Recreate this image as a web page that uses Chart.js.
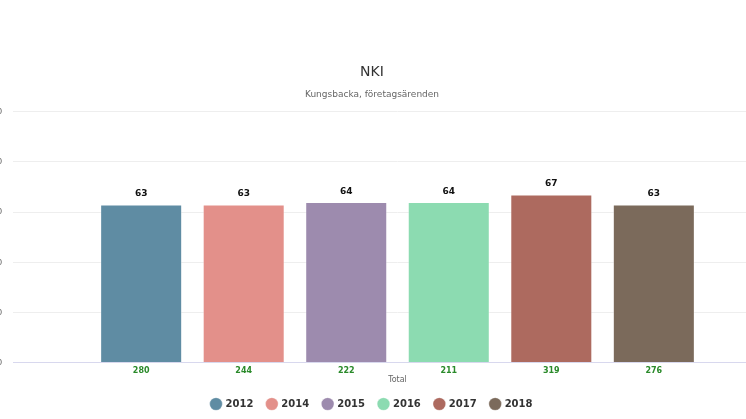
<!DOCTYPE html>
<html><head><meta charset="utf-8">
<script src="https://cdn.jsdelivr.net/npm/chart.js@4"></script>
<style>html,body{margin:0;padding:0;overflow:hidden;background:#fff}
#w{position:absolute;left:-38px;top:0;width:820px;height:419px}</style>
</head><body><div id="w"><canvas id="c"></canvas></div>
<script>
const years = ['2012','2014','2015','2016','2017','2018'];
const nki = [63, 63, 64, 64, 67, 63];
const counts = [280, 244, 222, 211, 319, 276];
const colors = ['#5f8ca3','#e3908a','#9d8bae','#8cdbb1','#ad6a5f','#7b6a5b'];
const categories = ['Total'];

const labelPlugin = {
  id: 'lbl',
  afterDatasetsDraw(chart) {
    const ctx = chart.ctx;
    ctx.save();
    ctx.textAlign = 'center';
    chart.data.datasets.forEach((ds, i) => {
      const bar = chart.getDatasetMeta(i).data[0];
      ctx.font = 'bold 9px "DejaVu Sans"';
      ctx.fillStyle = '#111';
      ctx.textBaseline = 'bottom';
      ctx.fillText(String(ds.data[0]), bar.x, bar.y - 6);
      ctx.font = 'bold 8px "DejaVu Sans"';
      ctx.fillStyle = '#2a8a2a';
      ctx.textBaseline = 'middle';
      ctx.fillText(String(counts[i]), bar.x, chart.chartArea.bottom + 8);
    });
    ctx.restore();
  }
};

new Chart(document.getElementById('c'), {
  type: 'bar',
  data: {
    labels: categories,
    datasets: years.map((y, i) => ({
      label: y, data: [nki[i]],
      backgroundColor: colors[i], borderColor: 'rgba(255,255,255,0.35)', borderWidth: 1
    }))
  },
  options: {
    responsive: true, maintainAspectRatio: false, animation: false,
    layout: { padding: { top: 64, left: 0, right: 0, bottom: 0 } },
    categoryPercentage: 0.8, barPercentage: 0.8,
    plugins: {
      title: { display: true, text: 'NKI', color: '#333', font: { family: 'DejaVu Sans', size: 14, weight: 'normal' }, padding: { top: 0, bottom: 8 } },
      subtitle: { display: true, text: 'Kungsbacka, företagsärenden', color: '#666', font: { family: 'DejaVu Sans', size: 9 }, padding: { bottom: 12 } },
      legend: { position: 'bottom', labels: { usePointStyle: true, pointStyle: 'circle', boxWidth: 9, boxHeight: 9, padding: 14, color: '#333', font: { family: 'DejaVu Sans', size: 10, weight: 'bold' } } },
      tooltip: { enabled: false }
    },
    scales: {
      y: {
        min: 0, max: 100, ticks: { stepSize: 20, color: '#666', padding: 11, font: { size: 9 } },
        grid: { color: '#eeeeee', drawTicks: false }, border: { display: false },
        afterFit(s) { s.width = 51; }
      },
      x: {
        ticks: { display: true, callback: () => '', padding: 0, font: { size: 4 } },
        grid: { display: false }, border: { color: '#d8d8ee' },
        title: { display: true, text: 'Total', color: '#666', font: { family: 'DejaVu Sans', size: 8 }, padding: { top: 0, bottom: 0 } }
      }
    }
  },
  plugins: [labelPlugin]
});
</script></body></html>
